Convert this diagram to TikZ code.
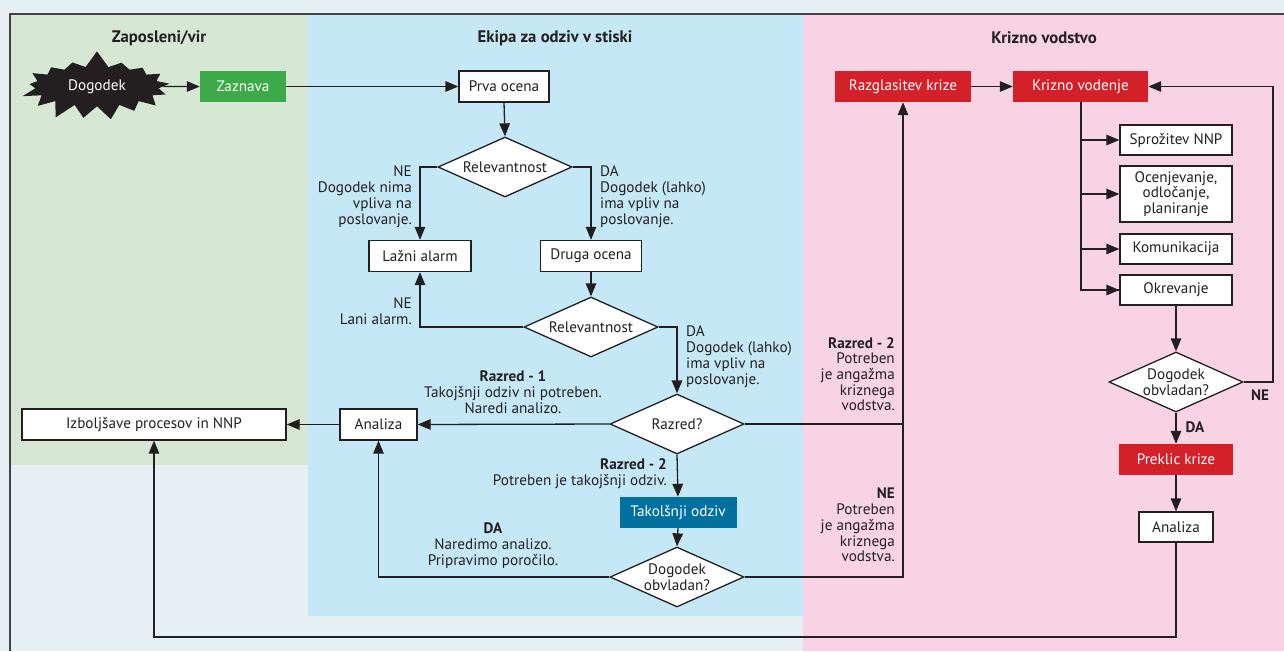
\documentclass[tikz,border=0pt]{standalone}
\usepackage{fontspec}
\setmainfont{PT Sans}
\usetikzlibrary{shapes.geometric,shapes.symbols,arrows.meta}
\definecolor{bgc}{HTML}{E4F0F2}
\definecolor{greenpanel}{HTML}{D6E8D4}
\definecolor{bluepanel}{HTML}{C5E8F7}
\definecolor{pinkpanel}{HTML}{F8D3E4}
\definecolor{zgreen}{HTML}{3CAA48}
\definecolor{kred}{HTML}{D32029}
\definecolor{kteal}{HTML}{00709F}
\definecolor{ink}{HTML}{231F20}
\tikzset{
  every node/.style={font=\fontsize{15.2}{16}\selectfont, text=ink},
  box/.style={draw=ink, line width=1.3pt, fill=white, inner sep=0pt, minimum height=31pt},
  redbox/.style={fill=kred, inner sep=0pt, minimum height=31pt, text=white},
  dia/.style={diamond, shape aspect=2.2, draw=ink, line width=1.3pt, fill=white, inner sep=0pt, minimum width=134pt, minimum height=60pt, align=center, font=\fontsize{15.2}{15.5}\selectfont},
  conn/.style={draw=ink, line width=1.3pt},
  arr/.style={conn, -{Triangle[length=13pt,width=10.5pt]}},
  lbl/.style={inner sep=0pt},
  hdr/.style={font=\fontsize{16.7}{18}\selectfont\bfseries},
}
\begin{document}
\begin{tikzpicture}[x=1pt,y=-1pt]
\useasboundingbox (0,0) rectangle (1284,651);
\fill[bgc] (0,0) rectangle (1284,651);
\fill[greenpanel] (10,14) rectangle (308,465);
\fill[bluepanel] (308,14) rectangle (803,616);
\fill[pinkpanel] (803,14) rectangle (1284,651);
\draw[ink!85, line width=2pt] (10,651) -- (10,14) -- (1284,14);

\node[hdr] (h1) at (159,38) {Zaposleni/vir};
\node[hdr] (h2) at (555,38) {Ekipa za odziv v stiski};
\node[hdr] (h3) at (1044,38) {Krizno vodstvo};

% nodes
\node[starburst, starburst points=17, starburst point height=17pt, random starburst=7, fill=ink, text=white, inner xsep=15pt, inner ysep=7pt] (dog) at (97,86.5) {Dogodek};
\node[fill=zgreen, text=white, inner sep=0pt, minimum width=86pt, minimum height=31pt] (zaz) at (243,86.5) {Zaznava};
\node[box, minimum width=90pt] (prva) at (504,86.5) {Prva ocena};
\node[dia] (rel1) at (505,167) {Relevantnost};
\node[box, minimum width=102pt] (lazni) at (420,256) {Lažni alarm};
\node[box, minimum width=101pt] (druga) at (591,256) {Druga ocena};
\node[dia] (rel2) at (591,327) {Relevantnost};
\node[dia] (razred) at (677,424) {Razred?};
\node[box, minimum width=77pt] (anal1) at (378.5,424.5) {Analiza};
\node[box, minimum width=264pt] (izb) at (154,424.5) {Izboljšave procesov in NNP};
\node[fill=kteal, text=white, inner sep=0pt, minimum width=117pt, minimum height=31pt] (takol) at (678,512.5) {Takolšnji odziv};
\node[dia] (obv1) at (677,577) {Dogodek\\obvladan?};
\node[redbox, minimum width=136pt] (razgl) at (903,86.5) {Razglasitev krize};
\node[redbox, minimum width=135pt] (krizno) at (1080.5,86.5) {Krizno vodenje};
\node[box, minimum width=112pt, minimum height=30pt] (sproz) at (1176,140) {Sprožitev NNP};
\node[box, minimum width=112pt, minimum height=56pt, align=center, font=\fontsize{15.2}{15.5}\selectfont] (ocen) at (1176,194) {Ocenjevanje,\\odločanje,\\planiranje};
\node[box, minimum width=112pt, minimum height=30pt] (komun) at (1176,249) {Komunikacija};
\node[box, minimum width=112pt, minimum height=30pt] (okrev) at (1176,290) {Okrevanje};
\node[dia] (obv2) at (1176,382) {Dogodek\\obvladan?};
\node[redbox, minimum width=114pt] (prek) at (1176,459.5) {Preklic krize};
\node[box, minimum width=74pt, minimum height=30pt] (anal2) at (1176,527) {Analiza};

% helper coordinates
\coordinate (j1) at (903,424);
\coordinate (trunk) at (1081,102);
\coordinate (ne2) at (1273,382);
\coordinate (bot) at (1176,637);

% connectors
\draw[arr] (dog.east) -- (zaz.west);
\draw[arr] (zaz.east) -- (prva.west);
\draw[arr] (prva.south) -- (rel1.north);
\draw[arr] (rel1.west) -| (lazni.north);
\draw[arr] (rel1.east) -| (druga.north);
\draw[arr] (druga.south) -- (rel2.north);
\draw[arr] (rel2.west) -| (lazni.south);
\draw[arr] (rel2.east) -| (razred.north);
\draw[arr] (razred.west) -- (anal1.east);
\draw[arr] (anal1.west) -- (izb.east);
\draw[arr] (razred.south) -- (takol.north);
\draw[arr] (takol.south) -- (obv1.north);
\draw[arr] (obv1.west) -| (anal1.south);
\draw[conn] (razred.east) -- (j1);
\draw[arr] (obv1.east) -| (razgl.south);
\draw[arr] (razgl.east) -- (krizno.west);
\draw[conn] (trunk) |- (okrev.west);
\draw[arr] (trunk |- okrev.west) -- (okrev.west);
\draw[arr] (trunk |- sproz.west) -- (sproz.west);
\draw[arr] (trunk |- ocen.west) -- (ocen.west);
\draw[arr] (trunk |- komun.west) -- (komun.west);
\draw[arr] (okrev.south) -- (obv2.north);
\draw[arr] (obv2.east) -- (ne2) |- (krizno.east);
\draw[arr] (obv2.south) -- (prek.north);
\draw[arr] (prek.south) -- (anal2.north);
\draw[arr] (anal2.south) -- (bot) -| (izb.south);

% labels
\node[lbl, anchor=north east, align=right] (l1) at (412,165) {NE\\Dogodek nima\\vpliva na\\poslovanje.};
\node[lbl, anchor=north west, align=left] (l2) at (600,165) {DA\\Dogodek (lahko)\\ima vpliv na\\poslovanje.};
\node[lbl, anchor=north east, align=right] (l3) at (412,297) {NE\\Lani alarm.};
\node[lbl, anchor=north west, align=left] (l4) at (686,325) {DA\\Dogodek (lahko)\\ima vpliv na\\poslovanje.};
\node[lbl, anchor=north, align=center] (l5) at (513,370) {\textbf{Razred - 1}\\Takojšnji odziv ni potreben.\\Naredi analizo.};
\node[lbl, anchor=north east, align=right] (l6) at (667,458) {\textbf{Razred - 2}\\Potreben je takojšnji odziv.};
\node[lbl, anchor=north, align=center] (l7) at (493,522) {\textbf{DA}\\Naredimo analizo.\\Pripravimo poročilo.};
\node[lbl, anchor=north east, align=right, font=\fontsize{15.2}{15.7}\selectfont] (l8) at (895,337) {\textbf{Razred - 2}\\Potreben\\je angažma\\kriznega\\vodstva.};
\node[lbl, anchor=north east, align=right, font=\fontsize{15.2}{15.7}\selectfont] (l9) at (895,488) {\textbf{NE}\\Potreben\\je angažma\\kriznega\\vodstva.};
\node[lbl, font=\fontsize{15.2}{16}\selectfont\bfseries] (l10) at (1260,395) {NE};
\node[lbl, font=\fontsize{15.2}{16}\selectfont\bfseries] (l11) at (1195,427) {DA};
\end{tikzpicture}
\end{document}
